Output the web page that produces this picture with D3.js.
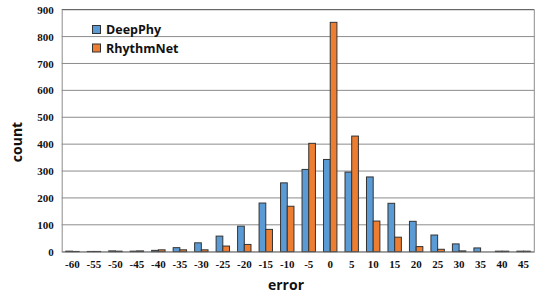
<!DOCTYPE html>
<html><head><meta charset="utf-8">
<script src="https://cdn.jsdelivr.net/npm/d3@7"></script>
<style>body{margin:0;background:#fff}</style>
</head><body><svg id="c" width="540" height="304"></svg>
<script>
const categories = [-60,-55,-50,-45,-40,-35,-30,-25,-20,-15,-10,-5,0,5,10,15,20,25,30,35,40,45];
const deepPhy   = [2,1,3,2,5,15,33,58,95,181,256,306,343,296,278,180,113,62,29,14,2,2];
const rhythmNet = [1,1,2,3,7,7,7,21,27,83,169,403,853,430,114,54,19,9,3,0,2,2];
const seriesNames = ["DeepPhy","RhythmNet"];
const yTicks = [0,100,200,300,400,500,600,700,800,900];

const colors = ["#5b9bd5","#ed7d31"];
const serif = "'Liberation Serif', 'Times New Roman', 'DejaVu Serif', serif";
const svg = d3.select("#c");
const m = {l:61.7, r:534.3, t:9.7, b:251.7};
const x = d3.scaleBand().domain(categories).range([m.l, m.r]);
const y = d3.scaleLinear().domain([0,900]).range([m.b, m.t]);
const bw = 6.7;

svg.append("g").selectAll("line").data(yTicks).join("line")
  .attr("x1", m.l).attr("x2", m.r)
  .attr("y1", d=>y(d)).attr("y2", d=>y(d))
  .attr("stroke", d=> d===900 ? "#444" : "#8c8c8c").attr("stroke-width", 1);
svg.append("line").attr("x1", m.r).attr("x2", m.r).attr("y1", m.t).attr("y2", m.b).attr("stroke","#8c8c8c");

const series = [deepPhy, rhythmNet];
series.forEach((vals, si) => {
  svg.append("g").selectAll("rect").data(categories).join("rect")
    .attr("x", (c)=> x(c) + x.bandwidth()/2 - bw + si*bw)
    .attr("width", bw)
    .attr("y", (c,i)=> y(vals[i]))
    .attr("height", (c,i)=> y(0) - y(vals[i]))
    .attr("fill", colors[si]).attr("stroke", "#333").attr("stroke-width", 1);
});

function styleAxis(g){
  g.attr("font-family", serif).attr("font-size", 11).attr("font-weight","bold");
  g.select(".domain").attr("stroke","#8c8c8c");
  g.selectAll("text").style("font-family", serif).style("font-weight","bold").style("font-size","11px").attr("fill","#111");
}
svg.append("g").attr("transform", `translate(${m.l},0)`)
  .call(d3.axisLeft(y).tickValues(yTicks).tickSize(0).tickPadding(8)).call(styleAxis);
svg.append("g").attr("transform", `translate(0,${m.b})`)
  .call(d3.axisBottom(x).tickSize(0).tickPadding(9)).call(styleAxis);

svg.append("text").attr("x", 286).attr("y", 290).attr("text-anchor","middle")
  .attr("font-family","Open Sans, DejaVu Sans").attr("font-weight","bold").attr("font-size",14).attr("fill","#111").text("error");
svg.append("text").attr("transform","translate(22,142) rotate(-90)").attr("text-anchor","middle")
  .attr("font-family","Open Sans, DejaVu Sans").attr("font-weight","bold").attr("font-size",14).attr("fill","#111").text("count");

const lg = svg.append("g");
seriesNames.forEach((n,i)=>{
  lg.append("rect").attr("x", 92.5).attr("y", 25.5 + i*18.5).attr("width", 8).attr("height", 8)
    .attr("fill", colors[i]).attr("stroke","#333");
  lg.append("text").attr("x", 106).attr("y", 34 + i*18.5)
    .attr("font-family","Open Sans, DejaVu Sans").attr("font-weight","bold").attr("font-size",12.5).attr("fill","#111").text(n);
});
</script></body></html>
